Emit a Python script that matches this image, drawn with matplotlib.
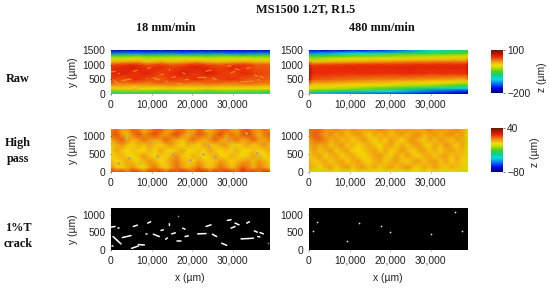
import matplotlib
matplotlib.use("Agg")
import matplotlib.pyplot as plt
from matplotlib.cm import ScalarMappable
from matplotlib.colors import LinearSegmentedColormap, Normalize

# =========================
# DATA
# =========================

raw_y = [0, 100, 200, 300, 400, 500, 700, 900, 1000, 1100, 1200, 1300, 1400, 1500]

raw_x_slow = [0, 3000, 6000, 9000, 12000, 15000, 18000, 21000, 24000, 27000, 30000, 33000, 36000, 39200]
raw_z_slow = [
    [-90, -85, -80, -80, -85, -85, -90, -85, -85, -80, -85, -90, -90, -90],
    [-45, -40, -40, -40, -45, -40, -40, -40, -45, -40, -40, -45, -45, -50],
    [-5, 0, -5, -10, -5, 0, -5, -5, 0, -5, -10, -5, -5, -10],
    [22, 18, 12, 18, 20, 24, 16, 20, 22, 16, 18, 20, 18, 14],
    [40, 34, 38, 30, 42, 34, 40, 32, 38, 36, 30, 40, 34, 30],
    [48, 40, 52, 44, 36, 50, 42, 54, 40, 46, 52, 40, 38, 36],
    [54, 60, 50, 58, 46, 52, 62, 48, 64, 50, 44, 56, 46, 42],
    [50, 58, 62, 50, 56, 46, 52, 62, 54, 44, 58, 48, 40, 40],
    [42, 50, 56, 40, 48, 38, 44, 54, 46, 40, 46, 50, 38, 38],
    [10, 16, 22, 6, 16, 8, 14, 22, 10, 8, 12, 16, 8, 10],
    [-15, -15, -10, -20, -15, -18, -12, -10, -15, -15, -15, -12, -15, -15],
    [-45, -45, -40, -45, -45, -40, -40, -45, -45, -40, -40, -45, -45, -45],
    [-135, -130, -130, -135, -130, -130, -135, -130, -130, -130, -135, -135, -130, -130],
    [-185, -185, -180, -180, -185, -185, -180, -180, -185, -185, -180, -180, -185, -185],
]

raw_x_fast = [0, 500, 1000, 5000, 10000, 15000, 20000, 25000, 30000, 35000, 38500, 39200]
raw_z_fast = [
    [-115, -115, -115, -120, -130, -140, -150, -160, -170, -180, -185, -185],
    [-50, -50, -55, -65, -75, -90, -105, -120, -135, -150, -160, -160],
    [-10, -10, -15, -20, -30, -40, -50, -60, -75, -90, -105, -90],
    [10, 5, 0, 0, -5, -10, -15, -25, -30, -45, -60, -40],
    [36, 28, 18, 18, 14, 10, 5, 0, -5, -10, -20, -5],
    [70, 52, 40, 36, 32, 28, 26, 24, 20, 15, 10, 25],
    [85, 66, 54, 52, 50, 52, 50, 52, 50, 50, 50, 66],
    [85, 66, 52, 54, 56, 54, 56, 58, 56, 58, 56, 72],
    [66, 50, 44, 48, 50, 52, 50, 54, 54, 56, 54, 70],
    [28, 14, 5, 10, 15, 20, 25, 28, 30, 32, 30, 46],
    [-10, -20, -30, -15, -10, -5, -5, 0, 0, 5, 5, 22],
    [-50, -55, -60, -50, -45, -40, -35, -30, -25, -20, -15, -5],
    [-120, -125, -125, -120, -105, -95, -80, -70, -60, -55, -50, -45],
    [-180, -180, -180, -180, -175, -165, -150, -125, -105, -85, -70, -65],
]

# high pass rows, top row first
hp_y = [1200, 1050, 900, 750, 600, 450, 300, 120, 0]
hp_x = [0, 1350, 2700, 4050, 5400, 6750, 8100, 9450, 10800, 12150, 13500, 14850, 16200, 17550, 18900,
        20250, 21600, 22950, 24300, 25650, 27000, 28350, 29700, 31050, 32400, 33750, 35100, 36450, 37800, 39200]

hp_z_slow = [
    [10, 13, 4, 8, 14, 11, 3, 6, 13, 16, 9, 4, 11, 15, 8, 6, 13, 9, 3, 8, 11, 15, 6, 4, 13, 16, 9, 8, 13, 9],
    [13, 17, 8, 2, 11, 17, 9, 13, 18, 11, 6, 13, 18, 11, 4, 9, 16, 13, 6, 11, 18, 9, 13, 8, 15, 18, 11, 4, 11, 15],
    [6, 11, 15, 9, 4, 8, 13, 9, 6, 8, 15, 9, 6, 2, 8, 13, 8, 4, 9, 15, 8, 4, 9, 13, 6, 9, 15, 8, 6, 11],
    [1, 4, 9, 2, -1, 4, 1, 6, 2, -1, 4, 9, 1, -2, 4, 2, -1, 6, 2, 1, 6, 8, 1, -1, 2, 6, 1, 4, 9, 2],
    [-1, 6, 1, -3, 2, -1, -2, 4, -1, 6, 1, -2, 2, 6, -1, -4, 2, -1, 6, 1, -2, 2, -1, 4, -1, -2, 2, -1, 1, 6],
    [-2, 1, 4, -1, -4, 2, 8, 1, -2, 2, -1, 4, 9, 1, -1, 4, 1, -3, 1, 6, -1, -2, 4, 1, -4, 1, 6, 1, -2, 1],
    [2, -2, 1, 6, 1, -1, 4, 9, 4, -2, 2, 8, 11, 4, 1, -1, 6, 2, -1, 2, 8, 4, -1, 2, 6, 8, 2, 9, 4, -1],
    [9, 2, -1, 4, 9, 1, -4, 6, 12, 4, -1, 6, 13, 8, 2, 8, 13, 6, 1, 6, 13, 9, 2, 8, 15, 11, 4, 11, 8, 2],
    [22, 16, 20, 11, 20, 18, 13, 20, 16, 22, 14, 20, 14, 22, 18, 14, 20, 24, 16, 20, 14, 22, 18, 13, 22, 16, 20, 14, 22, 18],
]

hp_z_fast = [
    [14, 12, 14, 9, 7, 11, 7, 5, 9, 6, 4, 8, 6, 10, 7, 4, 8, 5, 9, 6, 3, 7, 10, 5, 8, 4, 7, 10, 6, 1],
    [10, 16, 12, 6, 10, 4, 8, 2, 6, 9, 4, 0, 6, 3, 8, 2, 5, 9, 3, 7, 10, 3, 6, 9, 4, 8, 10, 5, 8, -4],
    [7, 12, 14, 10, 4, 8, 2, 6, 0, 4, 8, 2, -1, 5, 0, 7, 3, -1, 6, 9, 3, 0, 7, 2, 8, 4, 1, 7, 5, -6],
    [4, 9, 5, 8, 1, 5, 8, 1, 4, -1, 2, 6, 1, -2, 4, 7, 0, 5, 1, 6, 8, 2, -1, 6, 2, 9, 4, 0, 6, -6],
    [2, 7, 1, 5, 8, 0, 4, 7, -1, -3, 1, 4, 7, 0, 6, -1, 3, 8, 4, -1, 5, 7, 1, 5, -1, 4, 7, 2, 4, -5],
    [0, 4, 7, -1, 4, 6, -1, 3, 6, 0, -2, 2, 6, 8, 2, 0, 6, 1, 7, 2, -1, 4, 6, 0, 5, 7, 1, 5, 2, -6],
    [4, 0, 3, 6, 0, 4, 7, 0, 4, 7, 1, -1, 4, 6, 0, 4, 7, 2, -1, 5, 7, 1, 5, 8, 1, 6, 0, 4, 0, -5],
    [6, 3, -1, 4, 7, 1, 5, 8, 2, 6, 8, 2, 6, 0, 5, 7, 2, 6, 9, 3, 0, 6, 2, 7, 3, 0, 5, 2, 1, -6],
    [-9, -8, -9, -6, -8, -4, -8, -6, -3, -8, -5, -7, -3, -6, -8, -3, -7, -5, -8, -3, -6, -8, -3, -7, -5, -8, -4, -7, -8, -10],
]

# crack segments: x1, y1, x2, y2 in um
crack_slow = [
    (0, 653, 986, 672), (1808, 624, 1850, 624), (329, 115, 370, 115),
    (493, 384, 1397, 288), (1397, 288, 2466, 173), (2795, 355, 4932, 413),
    (5096, 48, 6740, 115), (6740, 154, 8220, 144), (5507, 672, 6494, 710),
    (9042, 768, 9782, 806), (8713, 461, 8900, 461), (10439, 451, 11919, 384),
    (12330, 557, 12905, 576), (13481, 307, 13892, 346), (14385, 749, 14420, 700),
    (14960, 461, 15865, 490), (16193, 259, 17262, 259), (17673, 624, 18248, 595),
    (18248, 384, 19070, 403), (20879, 192, 20920, 192), (21372, 461, 23427, 470),
    (23427, 672, 24660, 720), (24989, 451, 26057, 384), (27290, 192, 28523, 134),
    (27290, 624, 27330, 624), (28688, 845, 29592, 864), (29592, 624, 30578, 672),
    (30578, 768, 31565, 720), (33455, 768, 34113, 806), (32058, 317, 35099, 336),
    (35346, 547, 36086, 509), (36168, 384, 36661, 374), (36743, 499, 37565, 461),
]
crack_faint_x = [16604, 38798]
crack_faint_y = [960, 211]

crack_fast_x = [1066, 1886, 12300, 9348, 17794, 20090, 30012, 35998, 37802]
crack_fast_y = [547, 797, 758, 259, 691, 518, 451, 1094, 547]

# pale and green spots in the slow high pass map
hp_violet_x = [1808, 4439, 11261, 15371, 23990, 22760, 25640, 28900, 35900, 19500]
hp_violet_y = [254, 395, 442, 489, 724, 489, 423, 893, 536, 330]
hp_green_x = [3617, 7151, 10439, 30400, 36700, 23500, 33200]
hp_green_y = [959, 254, 837, 696, 442, 1166, 1100]

x_ticks = [0, 10000, 20000, 30000]
x_max = 39200

# =========================
# STYLE
# =========================

W, H = 550, 288
SANS = "Liberation Sans"
SERIF = "Liberation Serif"

plt.rcParams["font.family"] = SANS
plt.rcParams["font.size"] = 7.4

cmap = LinearSegmentedColormap.from_list("height", [
    (0.0, "#00007a"), (0.1, "#0000e0"), (0.2, "#0060ff"), (0.32, "#00e0e0"),
    (0.42, "#10d080"), (0.5, "#50d020"), (0.58, "#b0e000"), (0.645, "#f6dc00"),
    (0.68, "#f4c010"), (0.74, "#ee9410"), (0.84, "#ec2c08"), (0.92, "#c01000"), (1.0, "#602000"),
])
raw_norm = Normalize(-200, 100)
hp_norm = Normalize(-80, 40)

fig = plt.figure(figsize=(W / 100, H / 100), dpi=100)


def make_axes(x0, y0, x1, y1):
    # box given in picture pixels, y downwards
    return fig.add_axes([x0 / W, 1 - y1 / H, (x1 - x0) / W, (y1 - y0) / H])


def put_text(x, y, s, **kw):
    kw.setdefault("ha", "center")
    kw.setdefault("va", "center")
    fig.text(x / W, 1 - y / H, s, **kw)


def style_axes(ax, y_ticks, y_top):
    ax.set_xlim(0, x_max)
    ax.set_ylim(0, y_top)
    ax.set_xticks(x_ticks)
    ax.set_xticklabels([f"{v:,}" for v in x_ticks])
    ax.set_yticks(y_ticks)
    ax.tick_params(length=1, width=0.4, pad=3, labelsize=7.4, colors="#222222")
    for side in ax.spines:
        ax.spines[side].set_visible(False)


def crack_lines(ax, segments, color, lw, dy=0, alpha=1.0):
    for x1, y1, x2, y2 in segments:
        ax.plot([x1, x2], [y1 + dy, y2 + dy], color=color, lw=lw, alpha=alpha,
                solid_capstyle="round")


# =========================
# RAW
# =========================

ax = make_axes(111, 50, 270, 94)
ax.pcolormesh(raw_x_slow, raw_y, raw_z_slow, cmap=cmap, norm=raw_norm, shading="gouraud")
crack_lines(ax, crack_slow, "#f4a030", 0.8, dy=100, alpha=0.8)
style_axes(ax, [0, 500, 1000, 1500], 1500)

ax = make_axes(309, 50, 468, 94)
ax.pcolormesh(raw_x_fast, raw_y, raw_z_fast, cmap=cmap, norm=raw_norm, shading="gouraud")
style_axes(ax, [0, 500, 1000, 1500], 1500)

# =========================
# HIGH PASS
# =========================

ax = make_axes(111, 129, 270, 172)
ax.pcolormesh(hp_x, hp_y, hp_z_slow, cmap=cmap, norm=hp_norm, shading="gouraud")
ax.scatter(hp_violet_x, hp_violet_y, s=4, color="#b090a8", linewidths=0, alpha=0.75)
ax.scatter(hp_green_x, hp_green_y, s=5, color="#b0c840", linewidths=0, alpha=0.75)
style_axes(ax, [0, 500, 1000], 1200)

ax = make_axes(309, 129, 468, 172)
ax.pcolormesh(hp_x, hp_y, hp_z_fast, cmap=cmap, norm=hp_norm, shading="gouraud")
style_axes(ax, [0, 500, 1000], 1200)

# =========================
# CRACK
# =========================

ax = make_axes(111, 208, 270, 250)
ax.set_facecolor("black")
crack_lines(ax, crack_slow, "white", 1.1)
ax.scatter(crack_faint_x, crack_faint_y, s=1.5, color="#909090", linewidths=0)
style_axes(ax, [0, 500, 1000], 1200)

ax = make_axes(309, 208, 468, 250)
ax.set_facecolor("black")
ax.scatter(crack_fast_x, crack_fast_y, s=1.5, color="#e8e8e8", linewidths=0)
style_axes(ax, [0, 500, 1000], 1200)

# =========================
# COLORBARS
# =========================

for box, norm, ticks, lab_x, lab_y in [
    ((491, 50, 503, 93), raw_norm, [-200, 100], 542, 77),
    ((491, 128, 503, 172), hp_norm, [-80, 40], 535, 152),
]:
    cax = make_axes(*box)
    cb = fig.colorbar(ScalarMappable(norm=norm, cmap=cmap), cax=cax)
    cb.set_ticks(ticks)
    cb.set_ticklabels([str(t).replace("-", "\u2212") for t in ticks])
    cb.outline.set_visible(False)
    cax.tick_params(length=1.5, width=0.4, pad=1.5, labelsize=7.4, colors="#222222")
    put_text(lab_x, lab_y, "z (\u00b5m)", rotation=90, fontsize=7.4, color="#222222")

# =========================
# TEXT
# =========================

title_kw = dict(family=SERIF, fontweight="bold", fontsize=8.8, color="#111111")

put_text(306, 9, "MS1500 1.2T, R1.5", **title_kw)
put_text(166, 28, "18 mm/min", **title_kw)
put_text(382, 28, "480 mm/min", **title_kw)
put_text(18, 79, "Raw", **title_kw)
put_text(18, 143, "High", **title_kw)
put_text(18, 159, "pass", **title_kw)
put_text(18, 228, "1%T", **title_kw)
put_text(18, 244, "crack", **title_kw)

for y_mid in [72, 149, 229]:
    put_text(73, y_mid, "y (\u00b5m)", rotation=90, fontsize=7.4, color="#222222")
put_text(190, 278, "x (\u00b5m)", fontsize=7.4, color="#222222")
put_text(388, 278, "x (\u00b5m)", fontsize=7.4, color="#222222")

fig.savefig("out.png", dpi=100)
